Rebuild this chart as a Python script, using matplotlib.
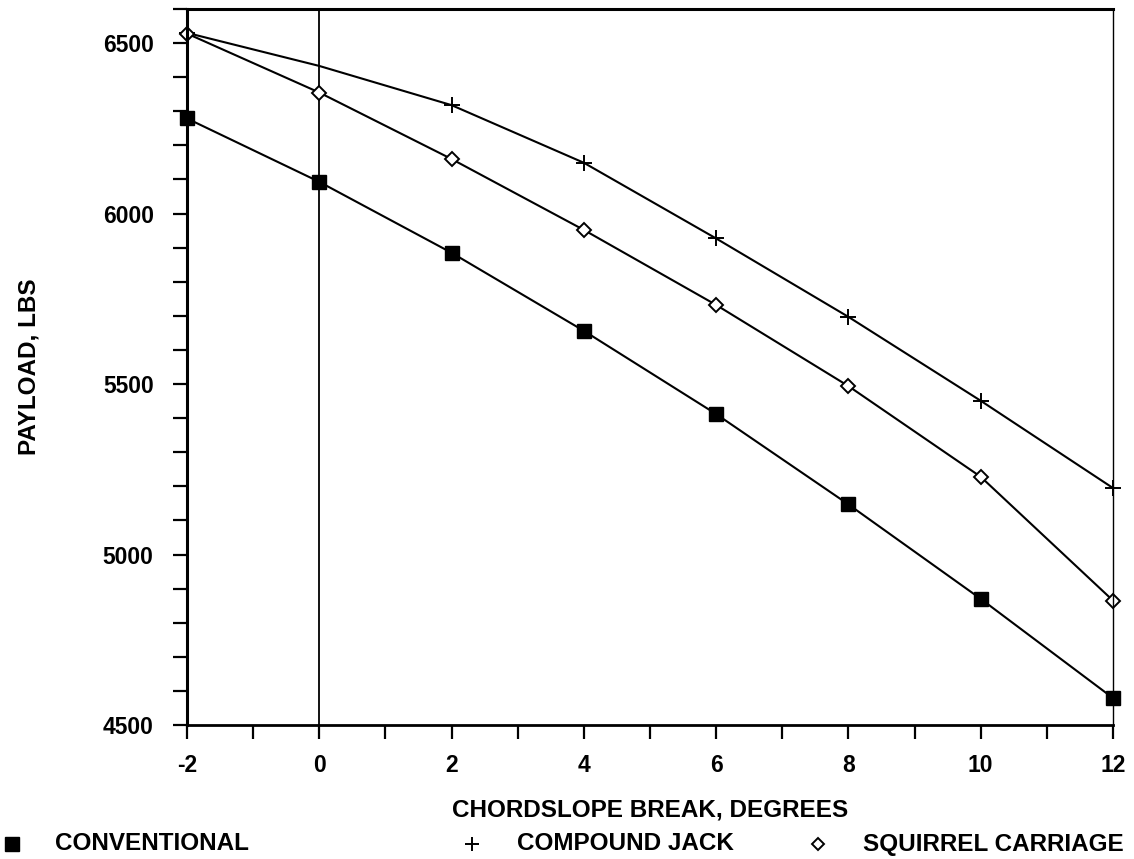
import numpy as np
import matplotlib
matplotlib.use("Agg")
import matplotlib.pyplot as plt
from matplotlib.ticker import MultipleLocator
from matplotlib.lines import Line2D

plt.rcParams['font.family'] = ['Liberation Sans', 'DejaVu Sans']
plt.rcParams['axes.unicode_minus'] = False

# chordslope break, degrees
chord_break = [-2, 0, 2, 4, 6, 8, 10, 12]

# payload, lbs
conventional = [6279, 6093, 5885, 5656, 5412, 5147, 4870, 4579]
compound_jack = [6530, 6433, 6318, 6149, 5927, 5697, 5451, 5195]
squirrel_carriage = [6528, 6355, 6160, 5952, 5732, 5494, 5228, 4865]

legend_labels = ["CONVENTIONAL", "COMPOUND JACK", "SQUIRREL CARRIAGE"]

W, H = 1134, 859
fig = plt.figure(figsize=(W / 100, H / 100), dpi=100)
ax = fig.add_axes([187 / W, 1 - 725 / H, 926 / W, 716 / H])

lw = 1.5
ax.plot(chord_break, conventional, color='black', lw=lw,
        marker='s', ms=9.5, mfc='black', mec='black', clip_on=False)
# the + at 0 is lost under the vertical line in the original
ax.plot(chord_break, compound_jack, color='black', lw=lw,
        marker='+', ms=11, mew=1.4, clip_on=False,
        markevery=[0, 2, 3, 4, 5, 6, 7])
ax.plot(chord_break, squirrel_carriage, color='black', lw=lw,
        marker='D', ms=7.5, mfc='white', mec='black', mew=1.4, clip_on=False)

ax.axvline(0, color='black', lw=1.3, zorder=1)

ax.set_xlim(-2, 12)
ax.set_ylim(4500, 6600)
ax.xaxis.set_major_locator(MultipleLocator(2))
ax.xaxis.set_minor_locator(MultipleLocator(1))
ax.yaxis.set_major_locator(MultipleLocator(500))
ax.yaxis.set_minor_locator(MultipleLocator(100))

ax.tick_params(which='both', direction='out', length=10, width=1.6,
               color='black')
ax.tick_params(axis='y', pad=14, labelsize=16.5)
ax.tick_params(axis='x', pad=11, labelsize=16.5)
for lab in ax.get_xticklabels() + ax.get_yticklabels():
    lab.set_fontweight('bold')

ax.spines['left'].set_linewidth(2.2)
ax.spines['bottom'].set_linewidth(2.0)
ax.spines['top'].set_linewidth(2.2)
ax.spines['right'].set_linewidth(1.0)

ax.set_xlabel("CHORDSLOPE BREAK, DEGREES", fontsize=17.5, fontweight='bold',
              labelpad=15)
ax.set_ylabel("PAYLOAD, LBS", fontsize=17.5, fontweight='bold')
ax.yaxis.set_label_coords(-0.158, 0.5)

# legend row along the bottom: symbol, then name
legend_y = 1 - 844 / H
symbol_x = [12, 472, 818]
text_x = [55, 517, 863]
symbols = [
    dict(marker='s', ms=9.5, color='black'),
    dict(marker='+', ms=10, mew=1.4, color='black'),
    dict(marker='D', ms=6, mfc='white', mec='black', mew=1.4),
]
for sx, tx, sym, lab in zip(symbol_x, text_x, symbols, legend_labels):
    fig.add_artist(Line2D([sx / W], [legend_y], ls='none',
                          transform=fig.transFigure, **sym))
    fig.text(tx / W, legend_y, lab, ha='left', va='center',
             fontsize=17.5, fontweight='bold')

fig.savefig("out.png", dpi=100)
